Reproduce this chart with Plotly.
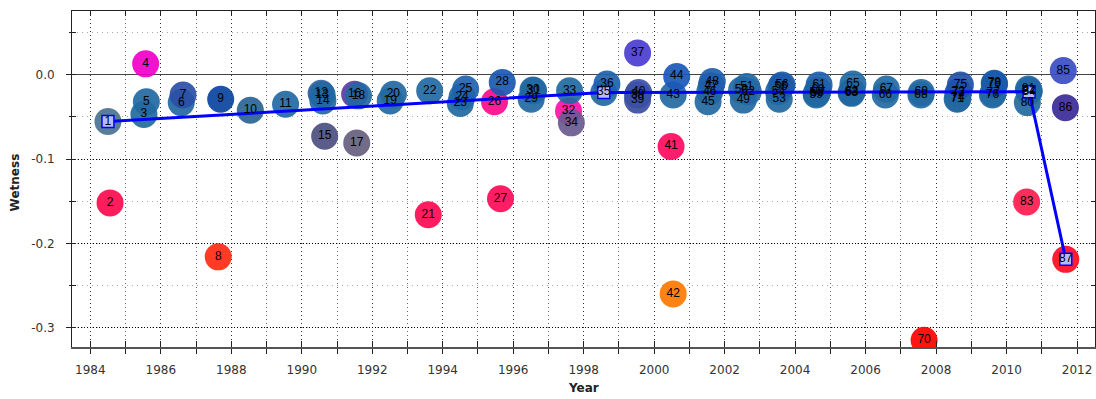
import plotly.graph_objects as go

ids = list(range(1, 88))
years = [1984.50, 1984.56, 1985.52, 1985.57, 1985.59, 1986.58, 1986.63, 1987.63, 1987.70, 1988.54,
         1989.54, 1990.55, 1990.58, 1990.60, 1990.65, 1991.50, 1991.56, 1991.61, 1992.51, 1992.60,
         1993.59, 1993.63, 1994.50, 1994.55, 1994.65, 1995.47, 1995.64, 1995.69, 1996.51, 1996.56,
         1996.58, 1997.57, 1997.60, 1997.65, 1998.57, 1998.66, 1999.53, 1999.53, 1999.53, 1999.56,
         2000.48, 2000.54, 2000.54, 2000.64, 2001.53, 2001.58, 2001.62, 2001.65, 2002.53, 2002.48,
         2002.63, 2002.67, 2003.55, 2003.53, 2003.60, 2003.63, 2004.60, 2004.63, 2004.60, 2004.65,
         2004.68, 2005.59, 2005.60, 2005.62, 2005.64, 2006.56, 2006.59, 2007.57, 2007.58, 2007.66,
         2008.60, 2008.62, 2008.64, 2008.62, 2008.69, 2009.60, 2009.62, 2009.65, 2009.66, 2010.59,
         2010.62, 2010.64, 2010.57, 2010.64, 2011.61, 2011.67, 2011.68]
wetness = [-0.0555, -0.152, -0.047, 0.013, -0.032, -0.033, -0.024, -0.216, -0.029, -0.042,
           -0.035, -0.022, -0.024, -0.031, -0.073, -0.023, -0.081, -0.025, -0.031, -0.023,
           -0.166, -0.019, -0.034, -0.026, -0.017, -0.032, -0.147, -0.009, -0.029, -0.018,
           -0.019, -0.043, -0.019, -0.057, -0.021, -0.011, 0.026, -0.024, -0.030, -0.021,
           -0.085, -0.260, -0.024, -0.002, -0.032, -0.020, -0.013, -0.008, -0.030, -0.018,
           -0.014, -0.020, -0.029, -0.020, -0.014, -0.012, -0.022, -0.022, -0.024, -0.018,
           -0.012, -0.021, -0.022, -0.020, -0.011, -0.024, -0.017, -0.024, -0.021, -0.315,
           -0.029, -0.022, -0.020, -0.028, -0.012, -0.024, -0.022, -0.010, -0.011, -0.033,
           -0.017, -0.019, -0.151, -0.020, 0.005, -0.039, -0.219]

BLUE = "#2268a2"
special_colors = {
    1: "#4a7391", 2: "#ff0a4e", 3: "#236a9c", 4: "#f000c8", 7: "#2a4fa6", 8: "#ff2a12",
    9: "#0a44a0", 10: "#2a6496", 12: "#3462a0", 15: "#4c4e80", 16: "#5a3ca4", 17: "#66607e",
    21: "#ff0a52", 25: "#2062ac", 26: "#ff0a8c", 27: "#ff0a58", 28: "#1a58b0", 32: "#ff10a8",
    34: "#6a5a90", 36: "#1e62aa", 37: "#4a3cd0", 38: "#4a48a0", 39: "#3a4ea0", 40: "#3c50a8",
    41: "#ff0a60", 42: "#ff7800", 44: "#1a58b8", 48: "#1e5eae", 56: "#1c5aaa", 61: "#1e60aa",
    70: "#ff0000", 75: "#2050a8", 78: "#1858a8", 79: "#1a5aaa", 83: "#ff1a4e",
    85: "#3a4cc4", 86: "#3a2a98", 87: "#ff0a20",
}
colors = [special_colors.get(i, BLUE) for i in ids]

# fitted segment vertices (point ids)
seg_ids = [1, 35, 84, 87]
seg_x = [years[i - 1] for i in seg_ids]
seg_y = [wetness[i - 1] for i in seg_ids]

x_tickvals = [1984, 1986, 1988, 1990, 1992, 1994, 1996, 1998, 2000, 2002, 2004, 2006, 2008, 2010, 2012]
x_ticktext = [str(v) for v in x_tickvals]
y_tickvals = [-0.3, -0.2, -0.1, 0.0]
y_ticktext = ["-0.3", "-0.2", "-0.1", "0.0"]

fig = go.Figure()
fig.add_trace(go.Scatter(
    x=years, y=wetness, mode="markers",
    marker=dict(size=27, color=colors, opacity=0.92, line=dict(width=0)),
    hoverinfo="skip", showlegend=False))
fig.add_trace(go.Scatter(
    x=seg_x, y=seg_y, mode="lines+markers",
    line=dict(color="#0000ff", width=3),
    marker=dict(symbol="square", size=12, color="#b4bcff", line=dict(color="#0000ff", width=1.5)),
    hoverinfo="skip", showlegend=False))
fig.add_trace(go.Scatter(
    x=years, y=wetness, mode="text", text=[str(i) for i in ids],
    textposition="middle center",
    textfont=dict(family="Liberation Sans, Arial, sans-serif", size=12, color="#000000"),
    hoverinfo="skip", showlegend=False))

xr = [1983.48, 2012.51]
yr = [-0.323, 0.0757]
tickfont = dict(family="DejaVu Sans, sans-serif", size=12, color="#333333")

fig.update_layout(
    width=1096, height=399,
    margin=dict(l=72, r=1, t=11, b=52, autoexpand=False),
    paper_bgcolor="white", plot_bgcolor="white",
    font=dict(family="DejaVu Sans, sans-serif", size=12, color="#333333"),
    xaxis=dict(range=xr, tickmode="array", tickvals=x_tickvals, ticktext=x_ticktext,
               ticks="outside", ticklen=5, tickcolor="#222", automargin=False,
               tickfont=tickfont, showline=True, linecolor="#555", linewidth=1.5,
               showgrid=True, gridcolor="#333", griddash="1px,3px", gridwidth=1,
               zeroline=False, ticklabelstandoff=6,
               minor=dict(dtick=1, tick0=1984, ticks="outside", ticklen=5, tickcolor="#222",
                          showgrid=True, gridcolor="#666", griddash="1px,3px")),
    xaxis2=dict(range=xr, overlaying="x", side="top", anchor="y", tick0=1984, dtick=1,
                ticks="inside", ticklen=5, tickcolor="#222", showticklabels=False, automargin=False,
                showline=True, linecolor="#222", linewidth=1, showgrid=False, zeroline=False),
    xaxis3=dict(range=xr, overlaying="x", side="bottom", anchor="y", tick0=1984, dtick=1,
                ticks="inside", ticklen=6, tickcolor="#222", showticklabels=False, automargin=False,
                showline=False, showgrid=False, zeroline=False),
    yaxis=dict(range=yr, tickmode="array", tickvals=y_tickvals, ticktext=y_ticktext,
               ticks="outside", ticklen=5, automargin=False,
               tickcolor="#222", tickfont=tickfont, showline=True, linecolor="#222", linewidth=1,
               showgrid=True, gridcolor="#000", griddash="1px,2px", gridwidth=1,
               zeroline=True, zerolinecolor="#444", zerolinewidth=1, ticklabelstandoff=9,
               minor=dict(dtick=0.05, tick0=0, ticks="outside", ticklen=2, tickcolor="#222",
                          showgrid=True, gridcolor="#aaa", griddash="1px,4px")),
    yaxis2=dict(range=yr, overlaying="y", side="right", anchor="x", tick0=0, dtick=0.05,
                ticks="inside", ticklen=4, tickcolor="#222", showticklabels=False, automargin=False,
                showline=True, linecolor="#222", linewidth=1, showgrid=False, zeroline=False),
    yaxis3=dict(range=yr, overlaying="y", side="left", anchor="x", tick0=0, dtick=0.05,
                ticks="inside", ticklen=4, tickcolor="#222", showticklabels=False, automargin=False,
                showline=False, showgrid=False, zeroline=False),
    annotations=[
        dict(text="<b>Wetness</b>", x=-0.0557, y=0.49, xref="paper", yref="paper",
             textangle=-90, showarrow=False, xanchor="center", yanchor="middle",
             font=dict(family="DejaVu Sans, sans-serif", size=12, color="#222")),
        dict(text="<b>Year</b>", x=0.5, y=(347 - 388) / 336, xref="paper", yref="paper",
             showarrow=False, xanchor="center", yanchor="middle",
             font=dict(family="DejaVu Sans, sans-serif", size=12, color="#222")),
    ],
)
# dummy traces to activate overlay axes
fig.add_trace(go.Scatter(x=[None], y=[None], xaxis="x2", yaxis="y2", showlegend=False, hoverinfo="skip"))
fig.add_trace(go.Scatter(x=[None], y=[None], xaxis="x3", yaxis="y3", showlegend=False, hoverinfo="skip"))

fig.write_html("out.html", config={"displayModeBar": False},
               post_script="document.body.style.margin='0px';")
